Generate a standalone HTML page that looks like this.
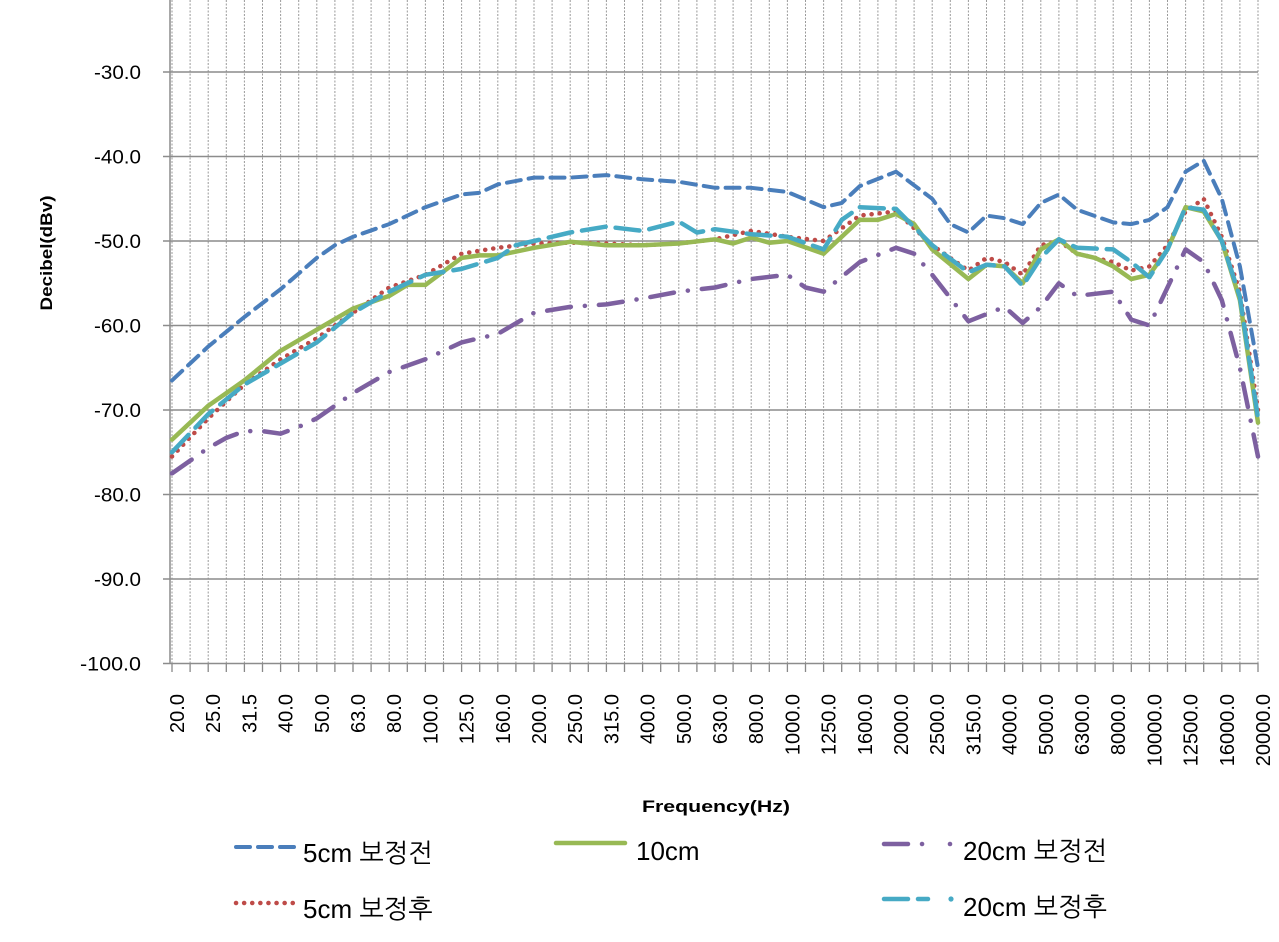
<!DOCTYPE html>
<html><head><meta charset="utf-8"><style>
body{margin:0;background:#fff;}
svg{display:block;font-family:"Liberation Sans","NanumGothic","Noto Sans CJK KR",sans-serif;}
</style></head><body>
<svg id="c" width="1279" height="942" xmlns="http://www.w3.org/2000/svg"></svg>
<script>
const s=document.getElementById('c');
let h='';
const X0=172,DX=36.2;
const Y=v=>72+(-30-v)*8.45;
const X=i=>X0+i*DX;
for(let k=0;k<=60;k++){const x=X(k/2);h+=`<line x1="${x}" y1="0" x2="${x}" y2="663" stroke="#9a9a9a" stroke-width="1" stroke-dasharray="2 1.5"/>`;h+=`<line x1="${x}" y1="663" x2="${x}" y2="672" stroke="#888" stroke-width="1.3"/>`;}
for(let v=-20;v>=-100;v-=10){const y=Y(v);h+=`<line x1="163" y1="${y}" x2="1258" y2="${y}" stroke="#8c8c8c" stroke-width="1.5"/>`;
 if(v<=-30){const t=v.toFixed(1);const w=v<=-100?61:47;h+=`<text x="141" y="${y+7}" font-size="19" text-anchor="end" textLength="${w}" lengthAdjust="spacingAndGlyphs" fill="#000">${t}</text>`;}}
h+=`<line x1="170" y1="0" x2="170" y2="663" stroke="#8c8c8c" stroke-width="1.5"/>`;
const labs=[20,25,31.5,40,50,63,80,100,125,160,200,250,315,400,500,630,800,1000,1250,1600,2000,2500,3150,4000,5000,6300,8000,10000,12500,16000,20000];
labs.forEach((l,i)=>{const x=X(i)+12;h+=`<text transform="translate(${x},694) rotate(-90)" font-size="20" text-anchor="end" fill="#000">${l.toFixed(1)}</text>`;});
h+=`<text x="642" y="812" font-size="17" font-weight="bold" textLength="148" lengthAdjust="spacingAndGlyphs">Frequency(Hz)</text>`;
h+=`<text transform="translate(52,253) rotate(-90)" font-size="17" font-weight="bold" text-anchor="middle" textLength="115" lengthAdjust="spacingAndGlyphs">Decibel(dBv)</text>`;
function path(pts){let d='';pts.forEach((p,j)=>{d+=(j?'L':'M')+X(p[0]).toFixed(1)+' '+Y(p[1]).toFixed(1);});return d;}
const green=[[0,-73.5],[1,-69.5],[2,-66.5],[3,-63],[4,-60.5],[5,-58],[6,-56.5],[6.5,-55.2],[7,-55.2],[8,-52],[8.5,-51.7],[9,-51.7],[10,-50.8],[11,-50.1],[12,-50.5],[13,-50.5],[14,-50.3],[15,-49.8],[15.5,-50.3],[16,-49.6],[16.5,-50.2],[17,-50],[18,-51.5],[19,-47.5],[19.5,-47.5],[20,-46.8],[20.5,-48],[21,-51],[22,-54.5],[22.5,-52.8],[23,-53],[23.5,-55],[24,-51],[24.5,-49.8],[25,-51.5],[25.5,-52],[26,-53],[26.5,-54.5],[27,-54],[27.5,-51],[28,-46],[28.5,-46.5],[29,-50],[29.5,-57],[30,-71.5]];
const red=[[0,-75.5],[1,-71],[2,-67],[3,-64],[4,-61.5],[5,-58.5],[6,-55.5],[7,-54],[8,-51.5],[9,-50.8],[10,-50.3],[11,-50.2],[12,-50.3],[13,-50.5],[14,-50.3],[15,-49.8],[16,-48.8],[17,-49.5],[18,-50],[19,-47],[20,-46.5],[21,-50.5],[22,-53.5],[22.5,-52],[23,-52.5],[23.5,-54],[24,-50.5],[24.5,-50],[25,-51.5],[26,-52.5],[26.5,-53.5],[27,-53],[27.5,-50.5],[28,-46.5],[28.5,-45],[29,-49.5],[29.5,-56],[30,-70]];
const cyan=[[0,-75],[1,-70.5],[2,-67],[3,-64.5],[4,-62],[5,-58.5],[6,-56],[7,-54],[8,-53.3],[9,-52],[9.5,-50.5],[10,-50],[11,-49],[12,-48.3],[13,-48.8],[14,-47.7],[14.5,-49],[15,-48.6],[16,-49.2],[17,-49.5],[18,-51],[18.5,-47.5],[19,-46],[20,-46.2],[21,-50.5],[22,-53.7],[22.5,-52.8],[23,-53],[23.5,-55.3],[24,-52],[24.5,-49.8],[25,-50.8],[26,-51],[26.5,-52.5],[27,-54.3],[27.5,-51],[28,-46],[28.5,-46.3],[29,-50],[29.5,-56.6],[30,-71]];
const purple=[[0,-77.5],[1,-74.5],[1.5,-73.3],[2,-72.5],[2.5,-72.5],[3,-72.8],[3.5,-72],[4,-71],[4.5,-69.5],[5,-68],[6,-65.5],[7,-64],[8,-62],[9,-61],[10,-58.5],[11,-57.8],[12,-57.5],[13,-56.8],[14,-56],[15,-55.5],[16,-54.5],[17,-54],[17.5,-55.5],[18,-56],[19,-52.5],[20,-50.8],[20.5,-51.5],[21,-54],[22,-59.5],[23,-57.8],[23.5,-59.7],[24,-57.8],[24.5,-55],[25,-56.5],[26,-56],[26.5,-59.3],[27,-60],[27.5,-55.5],[28,-51],[28.5,-52.5],[29,-57],[29.5,-65],[30,-75.5]];
const blue=[[0,-66.5],[1,-62.5],[2,-59],[3,-55.7],[4,-52],[4.5,-50.5],[5,-49.5],[6,-48],[7,-46],[8,-44.5],[8.5,-44.3],[9,-43.3],[10,-42.5],[11,-42.5],[12,-42.2],[13,-42.7],[14,-43],[15,-43.7],[16,-43.7],[17,-44.2],[18,-46],[18.5,-45.5],[19,-43.5],[20,-41.8],[21,-45],[21.5,-48],[22,-49],[22.5,-47],[23,-47.3],[23.5,-48],[24,-45.5],[24.5,-44.5],[25,-46.3],[26,-47.8],[26.5,-48],[27,-47.5],[27.5,-46],[28,-41.8],[28.5,-40.5],[29,-45],[29.5,-53],[30,-65]];
const st={
 blue:'stroke="#4a7ebb" stroke-width="4" stroke-dasharray="14 8" stroke-linecap="round"',
 red:'stroke="#be4b48" stroke-width="4.5" stroke-dasharray="0.1 8" stroke-linecap="round"',
 green:'stroke="#98b954" stroke-width="4.5" stroke-linecap="round"',
 purple:'stroke="#7d60a0" stroke-width="4.5" stroke-dasharray="24 14 0.1 14" stroke-linecap="round"',
 cyan:'stroke="#46aac5" stroke-width="4.5" stroke-dasharray="24 10" stroke-linecap="round"'};
h+=`<path d="${path(purple)}" fill="none" ${st.purple} stroke-linejoin="round"/>`;
h+=`<path d="${path(blue)}" fill="none" ${st.blue} stroke-linejoin="round"/>`;
h+=`<path d="${path(red)}" fill="none" ${st.red} stroke-linejoin="round"/>`;
h+=`<path d="${path(green)}" fill="none" ${st.green} stroke-linejoin="round"/>`;
h+=`<path d="${path(cyan)}" fill="none" ${st.cyan} stroke-linejoin="round"/>`;
const T=(x,y,t)=>`<text x="${x}" y="${y}" font-size="26" fill="#000">${t}</text>`;
h+=`<line x1="236" y1="847" x2="296" y2="847" ${st.blue}/>`+T(303,862,'5cm 보정전');
h+=`<line x1="236" y1="903" x2="296" y2="903" ${st.red}/>`+T(303,918,'5cm 보정후');
h+=`<line x1="556" y1="843" x2="625" y2="843" ${st.green}/>`+T(636,860,'10cm');
h+=`<line x1="884" y1="844" x2="928" y2="844" ${st.purple}/><circle cx="950" cy="844" r="2.3" fill="#7d60a0"/>`+T(963,860,'20cm 보정전');
h+=`<line x1="884" y1="899" x2="928" y2="899" ${st.cyan}/><circle cx="951" cy="899" r="2.6" fill="#46aac5"/>`+T(963,916,'20cm 보정후');
s.innerHTML=h;
</script>
</body></html>
